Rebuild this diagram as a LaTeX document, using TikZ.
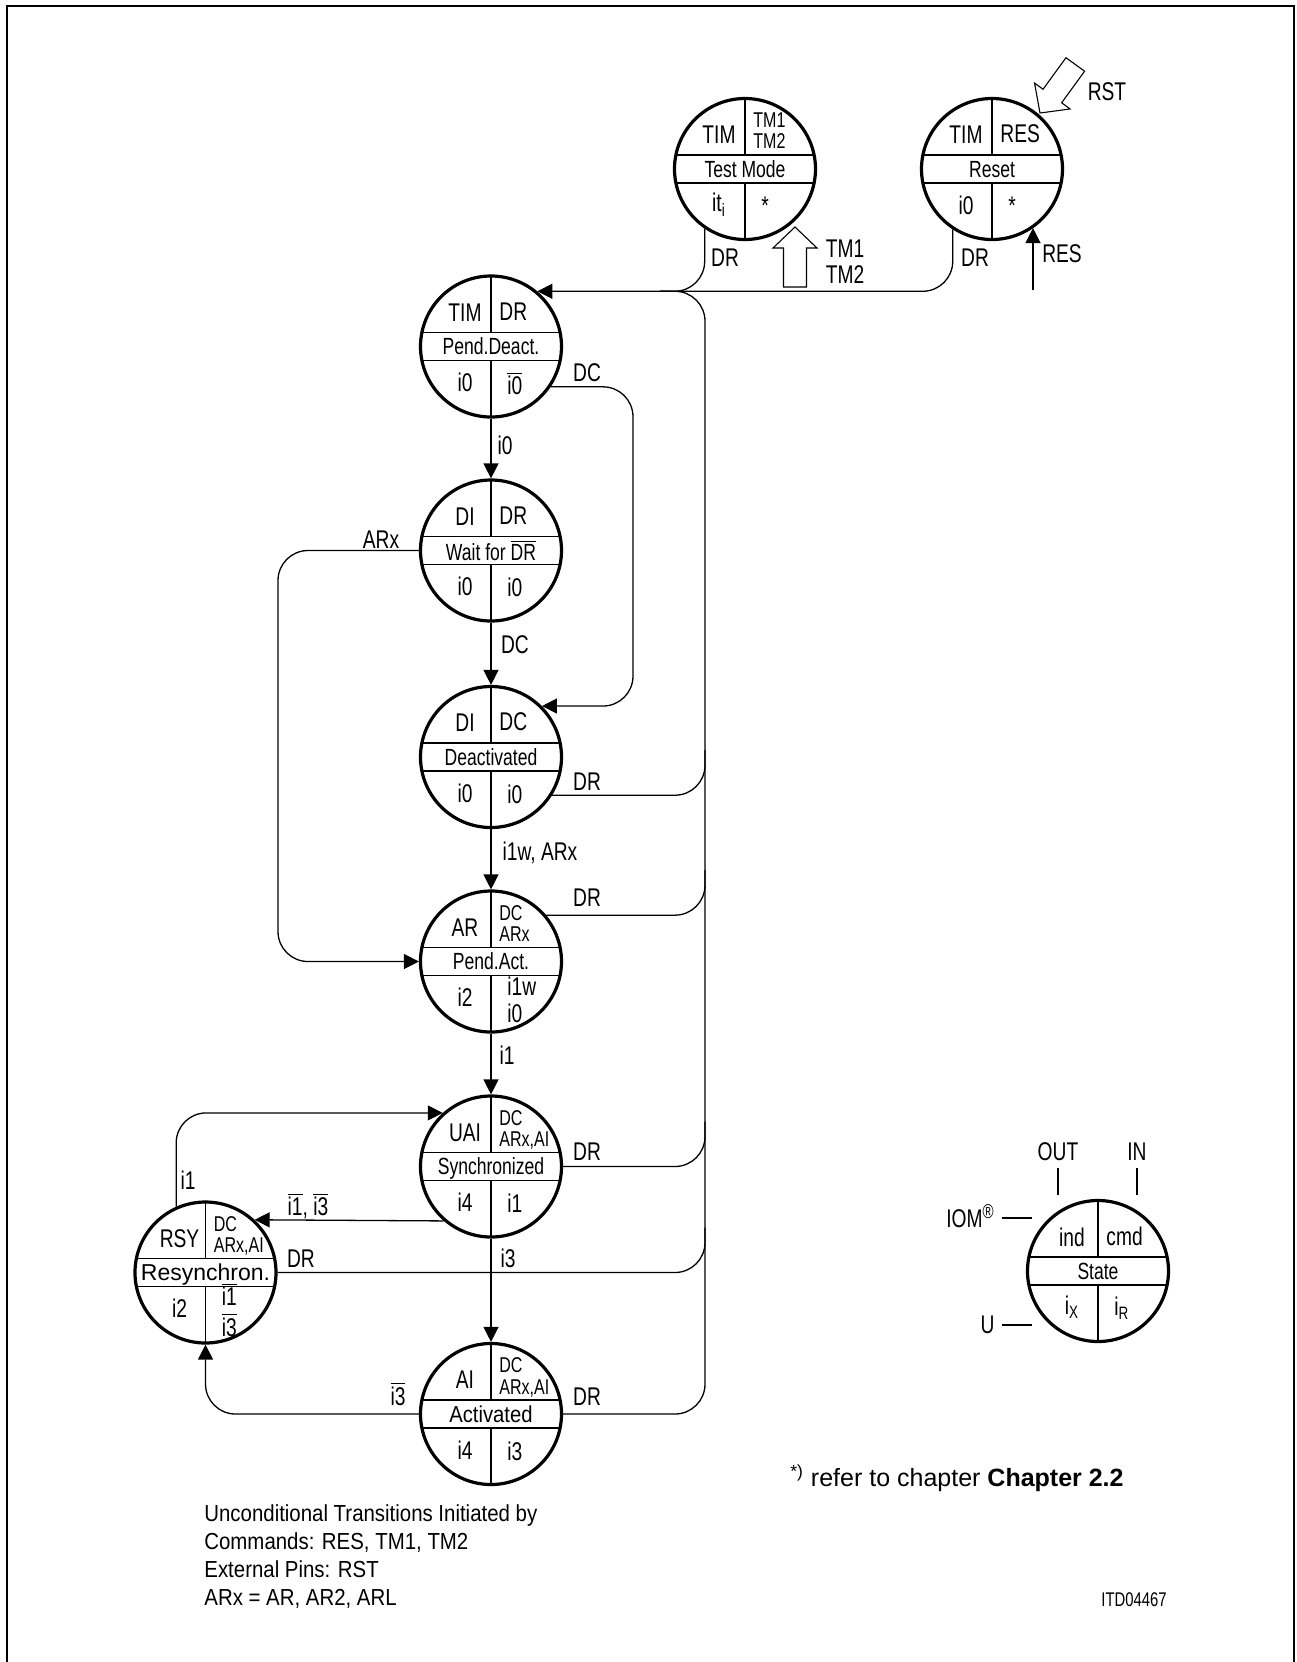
\documentclass[tikz,border=0pt]{standalone}
\usepackage{fontspec}
\setmainfont[FakeStretch=0.75]{Liberation Sans}
\newfontfamily\midfont[FakeStretch=0.88]{Liberation Sans}
\newfontfamily\plainfont{Liberation Sans}
\usetikzlibrary{arrows.meta,calc,positioning}

\newcommand\bigf{\fontsize{12.8}{13}\selectfont}
\newcommand\bandf{\fontsize{11.7}{12}\selectfont}
\newcommand\smf{\fontsize{10.7}{10.7}\selectfont}
\newcommand\two[2]{\begin{tabular}{@{}l@{}}#1\\#2\end{tabular}}
\newcommand\nb[1]{$\overline{\mbox{#1}}$}

% state circle: [shift of lower right], name, centre, upper left, upper right, band, lower left, lower right
\newcommand\mkstate[8][0pt]{%
  \node[statecirc] (#2) at (#3) {};
  \node[big] (#2-ul) at ($(#2)+(-26,-34)$) {#4};
  \node[big,anchor=west] (#2-ur) at ($(#2)+(6,-35)$) {#5};
  \node[band] (#2-nm) at (#2) {#6};
  \node[big] (#2-ll) at ($(#2)+(-26,36)$) {#7};
  \node[big,anchor=west,yshift=#1] (#2-lr) at ($(#2)+(14,37)$) {#8};
}

\begin{document}
\begin{tikzpicture}[
  x=0.5pt,y=-0.5pt,
  statecirc/.style={circle,draw,line width=1.6pt,minimum size=70.5pt,inner sep=0pt,
    path picture={\draw[line width=0.65pt]
      ([yshift=7pt]path picture bounding box.west) -- ([yshift=7pt]path picture bounding box.east)
      ([yshift=-7pt]path picture bounding box.west) -- ([yshift=-7pt]path picture bounding box.east)
      (path picture bounding box.north) -- ([yshift=7pt]path picture bounding box.center)
      (path picture bounding box.south) -- ([yshift=-7pt]path picture bounding box.center);}},
  big/.style={font=\bigf,inner sep=1pt},
  band/.style={font=\bandf,inner sep=1pt,text depth=0pt},
  lbl/.style={font=\bigf,inner sep=1pt},
  conn/.style={draw,line width=0.65pt,-{Triangle[length=7.5pt,width=7.5pt]}},
  wire/.style={draw,line width=0.65pt},
  pinarrow/.style={draw,line width=0.55pt,fill=white,line join=miter}]
  \useasboundingbox (0,0) rectangle (1297,1662);
  \draw[line width=1.35pt] (7,1662) -- (7,6) -- (1294,6) -- (1294,1662);

  \mkstate{tm}{745,169}{TIM}{\smf\two{TM1}{TM2}}{Test Mode}{it\textsubscript{i}}{*}
  \mkstate{rs}{992,169}{TIM}{RES}{Reset}{i0}{*}
  \mkstate{pd}{491,346.5}{TIM}{DR}{Pend.Deact.}{i0}{\nb{i0}}
  \mkstate{wd}{491,550.5}{DI}{DR}{Wait for \nb{DR}}{i0}{i0}
  \mkstate{dea}{491,757}{DI}{DC}{Deactivated}{i0}{i0}
  \mkstate[-2.5pt]{pa}{491,961.5}{AR}{\smf\two{DC}{ARx}}{Pend.Act.}{i2}{\two{i1w}{i0}}
  \mkstate{sync}{491,1166.5}{UAI}{\smf\two{DC}{ARx,AI}}{Synchronized}{i4}{i1}
  \mkstate{act}{491,1414}{AI}{\smf\two{DC}{ARx,AI}}{\midfont\fontsize{11.5}{12}\selectfont Activated}{i4}{i3}
  \mkstate[-2pt]{rsy}{205.5,1272.5}{RSY}{\smf\two{DC}{ARx,AI}}{\plainfont\fontsize{11.5}{12}\selectfont Resynchron.}{i2}{\two{\nb{i1}}{\nb{i3}}}
  \mkstate{legend}{1098,1271}{ind}{cmd}{State}{i\textsubscript{X}}{i\textsubscript{R}}

  \coordinate (busx) at (705,800);
  \coordinate (dccol) at (633,500);
  \coordinate (arxcol) at (278,750);
  \coordinate (tmpin) at (795,227);
  \coordinate (rstpin) at (1040,113);
  \coordinate (respin) at (1033,290);

  \foreach \a/\b in {pd/wd, wd/dea, dea/pa, pa/sync, sync/act}
    \draw[conn] (\a) -- (\b);

  \draw[conn,rounded corners=15pt] (act.east) -| (busx) |- (pd.50);
  \draw[wire,rounded corners=15pt] (tm.236) |- ($(busx |- pd.50)+(-45,0)$);
  \draw[wire,rounded corners=15pt] (rs.237) |- ($(busx |- pd.50)+(-45,0)$);
  \foreach \src in {dea.-32, pa.40, sync.east, rsy.east}
    \draw[wire,rounded corners=15pt] (\src) -| ($(\src -| busx)+(0,-45)$);

  \draw[conn,rounded corners=15pt] (pd.-34) -| (dccol) |- (dea.45);
  \draw[conn,rounded corners=15pt] (wd.west) -| (arxcol) |- (pa.west);
  \draw[conn,rounded corners=15pt] (rsy.114) |- (sync.132);
  \draw[conn] (sync.229) -- (rsy.47);
  \draw[conn,rounded corners=15pt] (act.west) -| (rsy.south);
  \draw[conn] (respin) -- (respin |- rs.-55);

  \draw[pinarrow,shift={(tmpin)}] (0,0) -- (22,21) -- (11.5,21) -- (11.5,60)
    -- (-11.5,60) -- (-11.5,21) -- (-22,21) -- cycle;
  \draw[pinarrow,shift={(rstpin)},rotate=144] (0,0) -- (22,21) -- (11.5,21) -- (11.5,60)
    -- (-11.5,60) -- (-11.5,21) -- (-22,21) -- cycle;

  \foreach \nm/\x/\y/\txt in {
    tmdr/725/258/DR,
    rsdr/975/258/DR,
    reslbl/1062/254/RES,
    rstlbl/1107/92/RST,
    dclbl/587/373/DC,
    ilbl/505/445/i0,
    arxlbl/381/540/ARx,
    dcdown/515/645/DC,
    drdea/587/782/DR,
    iwlbl/540/853/{i1w, ARx},
    drpa/587/898/DR,
    ionelbl/507/1055/i1,
    drsync/587/1152/DR,
    nlbl/308/1206/{\nb{i1}, \nb{i3}},
    iloop/188/1180/i1,
    drrsy/301/1259/DR,
    ithree/508/1258/i3,
    nthree/398/1394/\nb{i3},
    dract/587/1397/DR}
    \node[lbl] (\nm) at (\x,\y) {\txt};
  \node[lbl] (tmcmd) at (845,265) {\two{TM1}{TM2}};

  \node[lbl] (out) at (1058,1152) {OUT};
  \node[lbl] (in) at (1137,1152) {IN};
  \node[lbl,anchor=east] (iom) at (997,1216) {IOM\textsuperscript{\fontsize{10}{10}\selectfont ®}};
  \node[lbl,anchor=east] (ulbl) at (997,1325) {U};
  \draw[wire] (out.center) ++(0,16) -- ++(0,27);
  \draw[wire] (in.center) ++(0,16) -- ++(0,27);
  \draw[wire] (iom.east) ++(5,2) -- ++(30,0);
  \draw[wire] (ulbl.east) ++(5,0) -- ++(30,0);

  \node[anchor=north west,align=left,inner sep=0pt,font=\midfont\fontsize{11.6}{14}\selectfont] (note)
    at (204,1504) {Unconditional Transitions Initiated by\\Commands: RES, TM1, TM2\\External Pins: RST\\ARx = AR, AR2, ARL};
  \node[anchor=west,inner sep=0pt,font=\plainfont\fontsize{12.5}{14}\selectfont] (ref)
    at (790,1478) {\textsuperscript{*)} refer to chapter \textbf{Chapter 2.2}};
  \node[anchor=west,inner sep=0pt,font=\fontsize{9.9}{10}\selectfont] (itd) at (1101,1600) {ITD04467};
\end{tikzpicture}
\end{document}
